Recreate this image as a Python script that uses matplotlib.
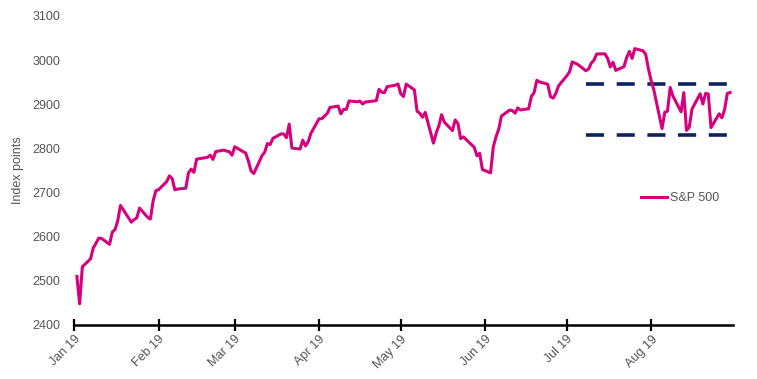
import matplotlib
matplotlib.use("Agg")
import matplotlib.pyplot as plt
import matplotlib.dates as mdates
import pandas as pd

# S&P 500 daily closes, Jan-Aug 2019
dates = [
    "2019-01-02", "2019-01-03", "2019-01-04", "2019-01-07", "2019-01-08", "2019-01-09", "2019-01-10",
    "2019-01-11", "2019-01-14", "2019-01-15", "2019-01-16", "2019-01-17", "2019-01-18", "2019-01-22",
    "2019-01-23", "2019-01-24", "2019-01-25", "2019-01-28", "2019-01-29", "2019-01-30", "2019-01-31",
    "2019-02-01", "2019-02-04", "2019-02-05", "2019-02-06", "2019-02-07", "2019-02-08", "2019-02-11",
    "2019-02-12", "2019-02-13", "2019-02-14", "2019-02-15", "2019-02-19", "2019-02-20", "2019-02-21",
    "2019-02-22", "2019-02-25", "2019-02-26", "2019-02-27", "2019-02-28", "2019-03-01", "2019-03-04",
    "2019-03-05", "2019-03-06", "2019-03-07", "2019-03-08", "2019-03-11", "2019-03-12", "2019-03-13",
    "2019-03-14", "2019-03-15", "2019-03-18", "2019-03-19", "2019-03-20", "2019-03-21", "2019-03-22",
    "2019-03-25", "2019-03-26", "2019-03-27", "2019-03-28", "2019-03-29", "2019-04-01", "2019-04-02",
    "2019-04-03", "2019-04-04", "2019-04-05", "2019-04-08", "2019-04-09", "2019-04-10", "2019-04-11",
    "2019-04-12", "2019-04-15", "2019-04-16", "2019-04-17", "2019-04-18", "2019-04-22", "2019-04-23",
    "2019-04-24", "2019-04-25", "2019-04-26", "2019-04-29", "2019-04-30", "2019-05-01", "2019-05-02",
    "2019-05-03", "2019-05-06", "2019-05-07", "2019-05-08", "2019-05-09", "2019-05-10", "2019-05-13",
    "2019-05-14", "2019-05-15", "2019-05-16", "2019-05-17", "2019-05-20", "2019-05-21", "2019-05-22",
    "2019-05-23", "2019-05-24", "2019-05-28", "2019-05-29", "2019-05-30", "2019-05-31", "2019-06-03",
    "2019-06-04", "2019-06-05", "2019-06-06", "2019-06-07", "2019-06-10", "2019-06-11", "2019-06-12",
    "2019-06-13", "2019-06-14", "2019-06-17", "2019-06-18", "2019-06-19", "2019-06-20", "2019-06-21",
    "2019-06-24", "2019-06-25", "2019-06-26", "2019-06-27", "2019-06-28", "2019-07-01", "2019-07-02",
    "2019-07-03", "2019-07-05", "2019-07-08", "2019-07-09", "2019-07-10", "2019-07-11", "2019-07-12",
    "2019-07-15", "2019-07-16", "2019-07-17", "2019-07-18", "2019-07-19", "2019-07-22", "2019-07-23",
    "2019-07-24", "2019-07-25", "2019-07-26", "2019-07-29", "2019-07-30", "2019-07-31", "2019-08-01",
    "2019-08-02", "2019-08-05", "2019-08-06", "2019-08-07", "2019-08-08", "2019-08-09", "2019-08-12",
    "2019-08-13", "2019-08-14", "2019-08-15", "2019-08-16", "2019-08-19", "2019-08-20", "2019-08-21",
    "2019-08-22", "2019-08-23", "2019-08-26", "2019-08-27", "2019-08-28", "2019-08-29", "2019-08-30",
]
closes = [
    2510.0, 2447.9, 2531.9, 2549.7, 2574.4, 2585.0, 2596.6,
    2596.3, 2582.6, 2610.3, 2616.1, 2636.0, 2670.7, 2632.9,
    2638.7, 2642.3, 2664.8, 2643.9, 2640.0, 2681.1, 2704.1,
    2706.5, 2724.9, 2737.7, 2731.6, 2706.1, 2707.9, 2709.8,
    2744.7, 2753.0, 2745.7, 2775.6, 2779.8, 2784.7, 2774.9,
    2792.7, 2796.1, 2793.9, 2792.4, 2784.5, 2803.7, 2792.8,
    2789.7, 2771.5, 2748.9, 2743.1, 2783.3, 2791.5, 2810.9,
    2808.5, 2822.5, 2832.9, 2832.6, 2824.2, 2854.9, 2800.7,
    2798.4, 2818.5, 2805.4, 2815.4, 2834.4, 2867.2, 2867.2,
    2873.4, 2879.4, 2892.7, 2895.8, 2878.2, 2888.2, 2888.3,
    2907.4, 2905.6, 2907.1, 2900.5, 2905.0, 2908.0, 2933.7,
    2927.3, 2926.2, 2939.9, 2943.0, 2945.8, 2923.7, 2917.5,
    2945.6, 2932.5, 2884.1, 2879.4, 2870.7, 2881.4, 2811.9,
    2834.4, 2851.0, 2876.3, 2859.5, 2840.2, 2864.4, 2856.3,
    2822.2, 2826.1, 2802.4, 2783.0, 2788.9, 2752.1, 2744.5,
    2803.3, 2826.2, 2843.5, 2873.3, 2886.7, 2885.7, 2879.8,
    2891.6, 2887.0, 2889.7, 2917.8, 2926.5, 2954.2, 2950.5,
    2945.4, 2917.4, 2913.8, 2924.9, 2941.8, 2964.3, 2973.0,
    2995.8, 2990.4, 2976.0, 2979.6, 2993.1, 2999.9, 3013.8,
    3014.3, 3004.0, 2984.4, 2995.1, 2976.6, 2985.0, 3005.5,
    3019.6, 3003.7, 3025.9, 3021.0, 3013.2, 2980.4, 2953.6,
    2932.1, 2844.7, 2881.8, 2884.0, 2938.1, 2918.7, 2882.7,
    2926.3, 2840.6, 2847.6, 2888.7, 2923.7, 2900.5, 2924.4,
    2923.0, 2847.1, 2878.4, 2869.2, 2887.9, 2924.6, 2926.5,
]

# trading range marked with dashed lines
range_levels = [2945, 2830]
range_start = "2019-07-08"
range_end = "2019-08-31"

x = pd.to_datetime(dates)

fig = plt.figure(figsize=(7.57, 3.79), dpi=100)
ax = fig.add_axes([0.098, 0.1425, 0.870, 0.8155])

font = "Liberation Sans"
grey = "#555555"

ax.plot(x, closes, color="#d6007f", lw=2.2, label="S&P 500", zorder=3)
for level in range_levels:
    ax.hlines(level, pd.Timestamp(range_start), pd.Timestamp(range_end),
              colors="#0b2360", lw=2.6, linestyles=(0, (5, 3.5)), zorder=2)

ax.set_xlim(pd.Timestamp("2019-01-01"), pd.Timestamp("2019-08-31"))
ax.set_ylim(2400, 3100)
ax.set_yticks(range(2400, 3101, 100))

ax.xaxis.set_major_locator(mdates.MonthLocator())
ax.xaxis.set_major_formatter(mdates.DateFormatter("%b %y"))

for side in ["top", "right", "left"]:
    ax.spines[side].set_visible(False)
ax.spines["bottom"].set_linewidth(1.8)
ax.spines["bottom"].set_color("black")

ax.tick_params(axis="x", direction="inout", length=8, width=1.6, color="black", pad=2)
ax.tick_params(axis="y", length=0, pad=10)

for lab in ax.get_xticklabels():
    lab.set_rotation(45)
    lab.set_ha("right")
    lab.set_rotation_mode("anchor")
    lab.set_fontfamily(font)
    lab.set_fontsize(9)
    lab.set_color(grey)
for lab in ax.get_yticklabels():
    lab.set_fontfamily(font)
    lab.set_fontsize(9)
    lab.set_color(grey)

ax.set_ylabel("Index points", fontfamily=font, fontsize=9, color=grey, labelpad=6)

leg = ax.legend(loc="center left", bbox_to_anchor=(0.86, 0.41), frameon=False,
                borderpad=0, borderaxespad=0, handlelength=2.1, handletextpad=0.25,
                prop={"family": font, "size": 9})
for t in leg.get_texts():
    t.set_color(grey)

fig.savefig("out.png", dpi=100)
